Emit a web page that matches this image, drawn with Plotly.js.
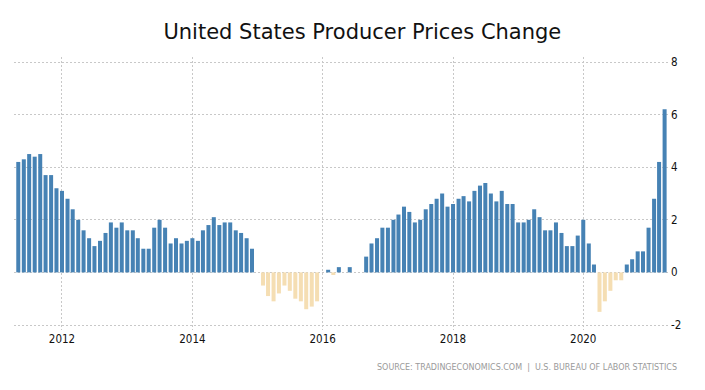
<!DOCTYPE html>
<html>
<head>
<meta charset="utf-8">
<script src="https://cdn.plot.ly/plotly-3.0.1.min.js"></script>
<style>
  html, body { margin: 0; padding: 0; background: #fff; }
  #chart { width: 705px; height: 390px; }
</style>
</head>
<body>
<div id="chart"></div>
<script>
// First month of the series (May 2011)
const startYear = 2011;
const startMonth = 5;

// Year-over-year change in producer prices (%), monthly, May 2011 - Apr 2021
const values2011 = [4.2, 4.3, 4.5, 4.4, 4.5, 3.7, 3.7, 3.2];
const values2012 = [3.1, 2.8, 2.4, 2.0, 1.6, 1.3, 1.0, 1.2, 1.5, 1.9, 1.7, 1.9];
const values2013 = [1.6, 1.6, 1.3, 0.9, 0.9, 1.7, 2.0, 1.7, 1.1, 1.3, 1.1, 1.2];
const values2014 = [1.3, 1.2, 1.6, 1.8, 2.1, 1.8, 1.9, 1.9, 1.6, 1.5, 1.3, 0.9];
const values2015 = [0.0, -0.5, -0.9, -1.1, -0.8, -0.5, -0.7, -1.0, -1.1, -1.4, -1.3, -1.1];
const values2016 = [0.0, 0.1, -0.1, 0.2, 0.0, 0.2, 0.0, 0.0, 0.6, 1.1, 1.3, 1.7];
const values2017 = [1.7, 2.0, 2.2, 2.5, 2.3, 1.9, 2.0, 2.4, 2.6, 2.8, 3.0, 2.5];
const values2018 = [2.6, 2.8, 2.9, 2.7, 3.1, 3.3, 3.4, 3.0, 2.7, 3.1, 2.6, 2.6];
const values2019 = [1.9, 1.9, 2.0, 2.4, 2.1, 1.6, 1.6, 1.9, 1.5, 1.0, 1.0, 1.4];
const values2020 = [2.0, 1.1, 0.3, -1.5, -1.1, -0.7, -0.3, -0.3, 0.3, 0.5, 0.8, 0.8];
const values2021 = [1.7, 2.8, 4.2, 6.2];

const yTickValues = [-2, 0, 2, 4, 6, 8];
const yTickLabels = ['-2', '0', '2', '4', '6', '8'];
const xTickValues = ['2012-01-01', '2014-01-01', '2016-01-01', '2018-01-01', '2020-01-01'];
const xTickLabels = ['2012', '2014', '2016', '2018', '2020'];

const titleText = 'United States Producer Prices Change';
const sourceText = 'SOURCE: TRADINGECONOMICS.COM &nbsp;|&nbsp; U.S. BUREAU OF LABOR STATISTICS';

const values = [].concat(values2011, values2012, values2013, values2014, values2015,
  values2016, values2017, values2018, values2019, values2020, values2021);

const months = values.map((v, i) => {
  const m0 = startMonth - 1 + i;
  const y = startYear + Math.floor(m0 / 12);
  const m = (m0 % 12) + 1;
  return y + '-' + String(m).padStart(2, '0') + '-01';
});

const colors = values.map(v => v >= 0 ? '#4682B4' : '#F5DEB3');

const trace = {
  type: 'bar',
  x: months,
  y: values,
  width: 22.5 * 86400000,
  marker: { color: colors, line: { width: 0 } },
  hoverinfo: 'x+y'
};

const layout = {
  width: 705,
  height: 390,
  paper_bgcolor: '#ffffff',
  plot_bgcolor: '#ffffff',
  margin: { l: 14, r: 37, t: 57, b: 60 },
  showlegend: false,
  title: {
    text: titleText,
    x: 0.514,
    xanchor: 'center',
    xref: 'container',
    y: 0.918,
    yanchor: 'middle',
    yref: 'container',
    font: { family: 'DejaVu Sans', size: 21, color: '#111111' }
  },
  xaxis: {
    type: 'date',
    range: ['2011-04-07', '2021-04-20'],
    tickvals: xTickValues,
    ticktext: xTickLabels,
    showgrid: true,
    gridcolor: '#c8c8c8',
    griddash: '2px,2px',
    gridwidth: 1,
    zeroline: false,
    showline: false,
    ticks: '',
    ticklabelstandoff: 0,
    tickfont: { family: 'DejaVu Sans Condensed', size: 11.5, color: '#111111' },
    fixedrange: true
  },
  yaxis: {
    side: 'right',
    range: [-2.19, 8.19],
    tickvals: yTickValues,
    ticktext: yTickLabels,
    showgrid: true,
    gridcolor: '#c8c8c8',
    griddash: '2px,2px',
    gridwidth: 1,
    zeroline: false,
    showline: false,
    ticks: '',
    ticklabelstandoff: 2,
    tickfont: { family: 'DejaVu Sans Condensed', size: 11.5, color: '#111111' },
    fixedrange: true
  },
  annotations: [{
    text: sourceText,
    xref: 'paper',
    yref: 'paper',
    x: 1.0,
    xanchor: 'right',
    xshift: 11,
    y: 0,
    yshift: -37,
    yanchor: 'middle',
    showarrow: false,
    font: { family: 'DejaVu Sans', size: 8, color: '#9a9a9a' }
  }]
};

Plotly.newPlot('chart', [trace], layout, { displayModeBar: false, staticPlot: true });
</script>
</body>
</html>
